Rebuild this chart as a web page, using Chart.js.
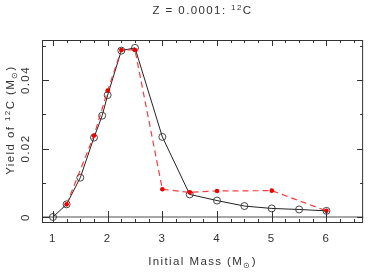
<!DOCTYPE html>
<html>
<head>
<meta charset="utf-8">
<script src="https://cdn.jsdelivr.net/npm/chart.js@4.4.1/dist/chart.umd.min.js"></script>
<style>
html,body{margin:0;padding:0;background:#fff;}
#wrap{width:368px;height:273px;}
</style>
</head>
<body>
<div id="wrap"><canvas id="c" width="368" height="273"></canvas></div>
<script>
// ---- data ----
const massBlack  = [1, 1.25, 1.5, 1.75, 1.9, 2, 2.25, 2.5, 3, 3.5, 4, 4.5, 5, 5.5, 6];
const yieldBlack = [0, 0.0037, 0.0115, 0.0232, 0.0296, 0.0356, 0.0486, 0.0494, 0.0234, 0.0066, 0.0048, 0.0032, 0.0025, 0.0022, 0.0018];
const massRed    = [1.25, 1.75, 2, 2.25, 2.5, 3, 3.5, 4, 5, 6];
const yieldRed   = [0.0037, 0.0238, 0.0369, 0.0488, 0.0488, 0.0081, 0.0072, 0.0076, 0.0077, 0.0018];
const xTickLabels = [1, 2, 3, 4, 5, 6];
const yTickLabels = [0, 0.02, 0.04];
const titleMain = "Z = 0.0001: ";
const titleSup = "12";
const titleEnd = "C";

const FONT = "'Liberation Sans', Arial, Helvetica, sans-serif";
const TXT = '#333';
const LS = '1.4px';

function pts(xs, ys){ return xs.map((x,i)=>({x:x, y:ys[i]})); }

function measurePieces(ctx, pieces){
  let w = 0;
  pieces.forEach(p=>{
    ctx.font = (p[1]==='n' ? '11.5px ' : '8px ') + FONT;
    w += ctx.measureText(p[0]).width;
  });
  return w;
}
function drawPieces(ctx, pieces, x, y){
  let cx = x;
  pieces.forEach(p=>{
    let dy = 0;
    if (p[1]==='n') ctx.font = '11.5px ' + FONT;
    else { ctx.font = '8px ' + FONT; dy = p[1]==='sup' ? -4.5 : 3; }
    ctx.fillText(p[0], cx, y + dy);
    cx += ctx.measureText(p[0]).width;
  });
}

const decor = {
  id: 'decor',
  beforeUpdate(chart){ chart.ctx.letterSpacing = LS; },
  beforeDraw(chart){ chart.ctx.letterSpacing = LS; },
  beforeDatasetsDraw(chart){
    const ctx = chart.ctx, a = chart.chartArea;
    const ys = chart.scales.y;
    ctx.save();
    ctx.strokeStyle = '#8a8a8a';
    ctx.lineWidth = 1.5;
    const y0 = ys.getPixelForValue(0);
    ctx.beginPath(); ctx.moveTo(a.left, y0); ctx.lineTo(a.right, y0); ctx.stroke();
    ctx.restore();
  },
  afterDraw(chart){
    const ctx = chart.ctx, a = chart.chartArea;
    const xs = chart.scales.x, ys = chart.scales.y;
    ctx.save();
    ctx.letterSpacing = LS;
    // frame
    ctx.strokeStyle = '#333';
    ctx.lineWidth = 1;
    ctx.strokeRect(a.left + 0.5, a.top + 0.5, a.right - a.left - 1, a.bottom - a.top - 1);
    // x ticks (inward)
    ctx.beginPath();
    for (let v = 1; v <= xs.max + 1e-9; v += 0.25) {
      const px = Math.round(xs.getPixelForValue(v)) + 0.5;
      const major = Math.abs(v - Math.round(v)) < 1e-6;
      ctx.moveTo(px, a.bottom); ctx.lineTo(px, a.bottom - (major ? 12 : 4));
      ctx.moveTo(px, a.top); ctx.lineTo(px, a.top + (major ? 6 : 3));
    }
    // y ticks (inward)
    for (let k = 0; k <= 5; k++) {
      const v = k * 0.01;
      if (v > ys.max) break;
      const py = Math.round(ys.getPixelForValue(v)) + 0.5;
      const major = k % 2 === 0;
      ctx.moveTo(a.left, py); ctx.lineTo(a.left + (major ? 7 : 4), py);
      ctx.moveTo(a.right, py); ctx.lineTo(a.right - (major ? 6 : 3), py);
    }
    ctx.stroke();

    // titles
    ctx.fillStyle = TXT;
    ctx.textBaseline = 'alphabetic';
    ctx.textAlign = 'left';
    const cxp = (a.left + a.right) / 2;
    const tp = [[titleMain,'n'],[titleSup,'sup'],[titleEnd,'n']];
    let w = measurePieces(ctx, tp);
    drawPieces(ctx, tp, cxp - w/2, 14);

    const xp = [['Initial Mass (M','n'],['\u2299','sub'],[')','n']];
    w = measurePieces(ctx, xp);
    drawPieces(ctx, xp, cxp - w/2, 265);

    const yp = [['Yield of ','n'],['12','sup'],['C (M','n'],['\u2299','sub'],[')','n']];
    w = measurePieces(ctx, yp);
    ctx.translate(14, 120);
    ctx.rotate(-Math.PI/2);
    drawPieces(ctx, yp, -w/2, 0);
    ctx.restore();
  }
};

new Chart(document.getElementById('c'), {
  type: 'scatter',
  data: {
    datasets: [
      {
        label: 'black',
        data: pts(massBlack, yieldBlack),
        showLine: true,
        borderColor: '#222',
        borderWidth: 1,
        pointRadius: 3.5,
        pointBorderWidth: 0.9,
        pointBorderColor: '#333',
        pointBackgroundColor: 'rgba(0,0,0,0)',
        order: 2
      },
      {
        label: 'red',
        data: pts(massRed, yieldRed),
        showLine: true,
        borderColor: 'rgba(245,40,40,0.9)',
        borderWidth: 1.2,
        borderDash: [6, 4],
        pointRadius: 2.3,
        pointBorderWidth: 0,
        pointBackgroundColor: '#f00000',
        order: 1
      }
    ]
  },
  options: {
    responsive: false,
    animation: false,
    devicePixelRatio: 1,
    layout: { padding: { top: 40, right: 3, left: 0, bottom: 0 } },
    plugins: { legend: { display: false }, tooltip: { enabled: false }, title: { display: false } },
    scales: {
      x: {
        type: 'linear',
        min: 0.8, max: 6.67,
        grid: { display: false, drawTicks: false },
        border: { display: false },
        afterBuildTicks(s){ s.ticks = xTickLabels.map(v => ({ value: v })); },
        afterFit(s){ s.height = 50; },
        ticks: { color: TXT, font: { family: FONT, size: 11.5 }, padding: 9, maxRotation: 0, autoSkip: false,
                 callback: v => String(v) }
      },
      y: {
        type: 'linear',
        min: -0.00175, max: 0.0517,
        grid: { display: false, drawTicks: false },
        border: { display: false },
        afterBuildTicks(s){ s.ticks = yTickLabels.map(v => ({ value: v })); },
        afterFit(s){ s.width = 42; },
        ticks: { color: TXT, font: { family: FONT, size: 11.5 }, padding: 2, minRotation: 90, maxRotation: 90,
                 crossAlign: 'center', autoSkip: false, callback: v => String(v) }
      }
    }
  },
  plugins: [decor]
});
</script>
</body>
</html>
